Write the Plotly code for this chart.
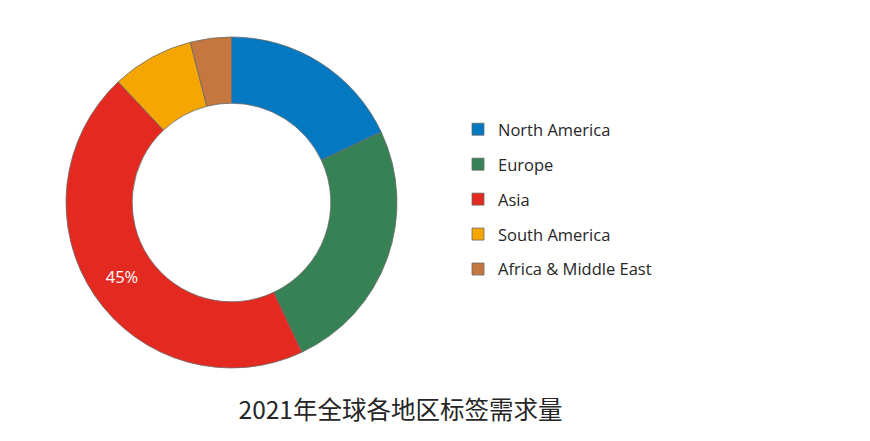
import plotly.graph_objects as go

# ---- data ----
regions = ["North America", "Europe", "Asia", "South America", "Africa & Middle East"]
demand_share = [18, 25, 45, 8, 4]
slice_colors = ["#0479C1", "#368254", "#E42A20", "#F5A600", "#C6773F"]
label_templates = ["", "", "%{percent:.0%}", "", ""]
title_text = "2021年全球各地区标签需求量"

W, H = 870, 441
OFF = 8  # page body margin in the browser
cx, cy, R = 231.5 - OFF, 202.5 - OFF, 165.5

fig = go.Figure()
fig.add_trace(go.Pie(
    labels=regions,
    values=demand_share,
    sort=False,
    direction="clockwise",
    rotation=0,
    hole=0.6,
    marker=dict(colors=slice_colors, line=dict(color="#6b6b6b", width=0.8)),
    texttemplate=label_templates,
    textposition="inside",
    insidetextorientation="horizontal",
    textfont=dict(family="Open Sans", size=16.5, color="white"),
    domain=dict(x=[(cx - R) / W, (cx + R) / W], y=[1 - (cy + R) / H, 1 - (cy - R) / H]),
    hoverinfo="label+percent",
))
# invisible spacer entry so that each slice gets its own legend group (vertical gap)
fig.add_trace(go.Pie(
    labels=[" "],
    values=[1],
    legendgroup="pad",
    marker=dict(colors=["white"], line=dict(width=0)),
    textinfo="none",
    domain=dict(x=[0.999, 1.0], y=[0.0, 0.001]),
    hoverinfo="skip",
))

fig.update_layout(
    width=W, height=H,
    margin=dict(l=0, r=0, t=0, b=0),
    paper_bgcolor="white",
    plot_bgcolor="white",
    showlegend=True,
    legend=dict(
        x=(458 - OFF) / W, xanchor="left",
        y=1 - (112 - OFF) / H, yanchor="top",
        traceorder="grouped",
        tracegroupgap=10.5,
        font=dict(family="Open Sans", size=16.5, color="#262626"),
        bgcolor="rgba(0,0,0,0)",
    ),
    title=dict(
        text=title_text,
        x=(400.5 - OFF) / W, xanchor="center", xref="paper",
        y=1 - (410 - OFF) / H, yanchor="middle", yref="container",
        font=dict(family="Noto Sans CJK SC", size=24.5, color="#262626"),
    ),
)

fig.write_html("out.html")
